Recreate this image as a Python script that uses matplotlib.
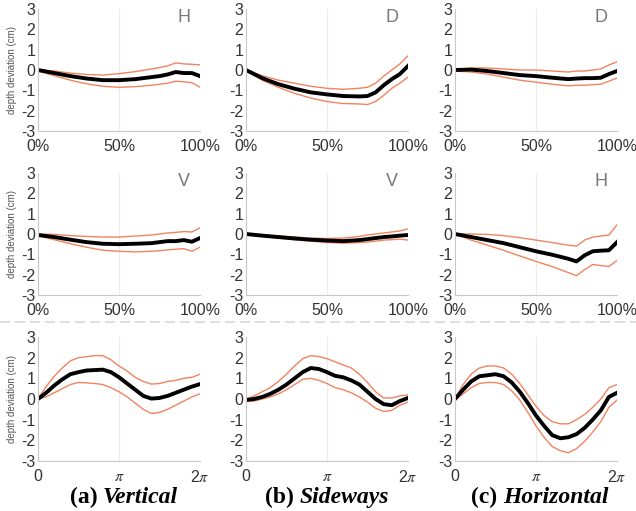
import numpy as np
import matplotlib
matplotlib.use("Agg")
import matplotlib.pyplot as plt

plt.rcParams['font.family'] = ['Liberation Sans', 'DejaVu Sans']
plt.rcParams['mathtext.fontset'] = 'stix'

# x positions (fraction of the movement) for the two top rows
x_pct = [0, 0.1, 0.2, 0.3, 0.4, 0.5, 0.6, 0.7, 0.75, 0.8, 0.85, 0.9, 0.95, 1.0]
# x positions (fraction of 2*pi) for the bottom row
x_rot = [0, 0.05, 0.1, 0.15, 0.2, 0.25, 0.3, 0.35, 0.4, 0.45, 0.5,
         0.55, 0.6, 0.65, 0.7, 0.75, 0.8, 0.85, 0.9, 0.95, 1.0]

# row 1
vert_h_mean = [0, -0.15, -0.3, -0.42, -0.5, -0.5, -0.45, -0.35, -0.3, -0.22, -0.1, -0.15, -0.15, -0.3]
vert_h_up = [0, -0.05, -0.15, -0.22, -0.25, -0.18, -0.08, 0.05, 0.12, 0.2, 0.35, 0.3, 0.28, 0.25]
vert_h_lo = [-0.05, -0.28, -0.5, -0.68, -0.8, -0.85, -0.82, -0.75, -0.7, -0.65, -0.55, -0.58, -0.62, -0.85]

side_d_mean = [0, -0.4, -0.7, -0.92, -1.1, -1.2, -1.28, -1.3, -1.28, -1.1, -0.75, -0.45, -0.2, 0.2]
side_d_up = [0, -0.28, -0.5, -0.65, -0.8, -0.9, -0.95, -0.9, -0.85, -0.65, -0.3, 0.0, 0.3, 0.7]
side_d_lo = [0, -0.5, -0.85, -1.15, -1.38, -1.55, -1.65, -1.67, -1.7, -1.55, -1.25, -0.9, -0.65, -0.35]

hori_d_mean = [0, 0.02, -0.05, -0.15, -0.25, -0.3, -0.38, -0.45, -0.42, -0.4, -0.4, -0.38, -0.2, -0.05]
hori_d_up = [0, 0.1, 0.1, 0.05, 0.0, 0.0, -0.05, -0.1, -0.05, -0.05, 0.0, 0.05, 0.25, 0.4]
hori_d_lo = [-0.05, -0.1, -0.2, -0.35, -0.5, -0.6, -0.7, -0.78, -0.75, -0.75, -0.72, -0.7, -0.55, -0.4]

# row 2
vert_v_mean = [-0.05, -0.15, -0.28, -0.4, -0.48, -0.5, -0.48, -0.45, -0.4, -0.35, -0.35, -0.3, -0.38, -0.2]
vert_v_up = [0, -0.02, -0.08, -0.12, -0.15, -0.15, -0.1, -0.05, 0.0, 0.05, 0.08, 0.12, 0.1, 0.3]
vert_v_lo = [-0.08, -0.28, -0.48, -0.65, -0.8, -0.85, -0.88, -0.85, -0.82, -0.78, -0.75, -0.72, -0.85, -0.65]

side_v_mean = [0, -0.08, -0.15, -0.22, -0.28, -0.32, -0.35, -0.3, -0.25, -0.2, -0.15, -0.12, -0.08, -0.05]
side_v_up = [0, -0.05, -0.1, -0.15, -0.2, -0.22, -0.2, -0.12, -0.05, 0.0, 0.05, 0.1, 0.15, 0.25]
side_v_lo = [0, -0.1, -0.2, -0.28, -0.35, -0.42, -0.45, -0.42, -0.4, -0.35, -0.3, -0.28, -0.25, -0.3]

hori_h_mean = [0, -0.15, -0.3, -0.45, -0.65, -0.85, -1.02, -1.22, -1.35, -1.05, -0.85, -0.82, -0.8, -0.4]
hori_h_up = [0, 0.0, -0.02, -0.08, -0.18, -0.3, -0.42, -0.55, -0.6, -0.3, -0.15, -0.1, -0.05, 0.45]
hori_h_lo = [0, -0.3, -0.55, -0.8, -1.08, -1.35, -1.6, -1.9, -2.05, -1.75, -1.5, -1.55, -1.6, -1.3]

# row 3 (rotation)
vert_r_mean = [0, 0.3, 0.65, 0.95, 1.2, 1.3, 1.38, 1.4, 1.42, 1.3, 1.05, 0.75, 0.45, 0.15, 0.02, 0.05, 0.15, 0.3, 0.45, 0.6, 0.72]
vert_r_up = [0, 0.6, 1.1, 1.5, 1.85, 2.0, 2.05, 2.1, 2.1, 1.9, 1.6, 1.35, 1.05, 0.85, 0.72, 0.75, 0.85, 0.9, 1.0, 1.05, 1.2]
vert_r_lo = [0, 0.1, 0.3, 0.5, 0.7, 0.8, 0.78, 0.75, 0.7, 0.55, 0.35, 0.1, -0.2, -0.5, -0.7, -0.65, -0.5, -0.3, -0.1, 0.1, 0.25]

side_r_mean = [-0.05, 0.0, 0.1, 0.25, 0.45, 0.7, 1.0, 1.3, 1.5, 1.45, 1.3, 1.12, 1.05, 0.9, 0.7, 0.35, 0.0, -0.25, -0.3, -0.1, 0.05]
side_r_up = [0, 0.15, 0.35, 0.55, 0.85, 1.2, 1.6, 1.95, 2.1, 2.05, 1.95, 1.8, 1.65, 1.5, 1.2, 0.8, 0.35, 0.05, 0.05, 0.15, 0.2]
side_r_lo = [-0.1, -0.1, 0.0, 0.1, 0.25, 0.45, 0.7, 0.95, 1.0, 0.9, 0.75, 0.55, 0.45, 0.3, 0.1, -0.15, -0.45, -0.6, -0.55, -0.3, -0.15]

hori_r_mean = [0, 0.45, 0.85, 1.1, 1.15, 1.2, 1.1, 0.8, 0.35, -0.2, -0.8, -1.3, -1.75, -1.9, -1.85, -1.7, -1.4, -1.0, -0.55, 0.1, 0.3]
hori_r_up = [0, 0.7, 1.2, 1.5, 1.6, 1.6, 1.5, 1.2, 0.75, 0.2, -0.35, -0.8, -1.1, -1.2, -1.2, -1.0, -0.75, -0.4, 0.0, 0.55, 0.7]
hori_r_lo = [-0.05, 0.25, 0.55, 0.75, 0.8, 0.8, 0.7, 0.4, -0.05, -0.65, -1.3, -1.85, -2.3, -2.5, -2.6, -2.4, -2.05, -1.6, -1.1, -0.4, -0.05]

panels = [
    [(vert_h_mean, vert_h_up, vert_h_lo, 'H'), (side_d_mean, side_d_up, side_d_lo, 'D'), (hori_d_mean, hori_d_up, hori_d_lo, 'D')],
    [(vert_v_mean, vert_v_up, vert_v_lo, 'V'), (side_v_mean, side_v_up, side_v_lo, 'V'), (hori_h_mean, hori_h_up, hori_h_lo, 'H')],
    [(vert_r_mean, vert_r_up, vert_r_lo, ''), (side_r_mean, side_r_up, side_r_lo, ''), (hori_r_mean, hori_r_up, hori_r_lo, '')],
]
captions = [('(a)', 'Vertical'), ('(b)', 'Sideways'), ('(c)', 'Horizontal')]

W, H = 636, 511
col_left = [38, 246, 455]
col_w = 162
row_top = [9, 173, 337]
row_bot = [131, 295, 461]
caption_split = [103, 300, 503]   # px where "(x) " ends and the italic word starts

band_color = '#f2835f'
spine_color = '#c8c8c8'
text_color = '#333333'

fig = plt.figure(figsize=(W / 100, H / 100), dpi=100)

for r in range(3):
    for c in range(3):
        mean, up, lo, tag = panels[r][c]
        ax = fig.add_axes([col_left[c] / W, 1 - row_bot[r] / H, col_w / W, (row_bot[r] - row_top[r]) / H])
        if r < 2:
            xs = np.array(x_pct)
            xmax = 1.0
            xt = [0, 0.5, 1.0]
            xl = ['0%', '50%', '100%']
        else:
            xs = np.array(x_rot) * 2 * np.pi
            xmax = 2 * np.pi
            xt = [0, np.pi, 2 * np.pi]
            xl = ['0', r'$\pi$', r'2$\pi$']
        ax.axvline(xt[1], color='#ececec', lw=0.8, zorder=0)
        ax.plot(xs, up, color=band_color, lw=1.0)
        ax.plot(xs, lo, color=band_color, lw=1.0)
        ax.plot(xs, mean, color='black', lw=2.8)
        ax.set_xlim(0, xmax)
        ax.set_ylim(-3, 3)
        ax.set_yticks([-3, -2, -1, 0, 1, 2, 3])
        ax.set_yticklabels(['-3', '-2', '-1', '0', '1', '2', '3'])
        ax.set_xticks(xt)
        ax.set_xticklabels(xl)
        ax.tick_params(length=0, labelsize=11.5, colors=text_color)
        ax.tick_params(axis='y', pad=2)
        ax.tick_params(axis='x', pad=6)
        for s in ['top', 'right']:
            ax.spines[s].set_visible(False)
        for s in ['left', 'bottom']:
            ax.spines[s].set_color(spine_color)
            ax.spines[s].set_linewidth(0.8)
        if tag:
            ax.text(0.9, 0.93, tag, transform=ax.transAxes, ha='center', va='center',
                    fontsize=13, color='#777777')
        if c == 0:
            ax.set_ylabel('depth deviation (cm)', fontsize=7, color='#555555', labelpad=3)

# dashed separator between the translation rows and the rotation row
fig.add_artist(plt.Line2D([0, 1], [1 - 322 / H, 1 - 322 / H], transform=fig.transFigure,
                          color='#d8d8d8', lw=1.2, linestyle=(0, (6, 3))))

for c, (lab, name) in enumerate(captions):
    xs_ = caption_split[c] / W
    fig.text(xs_, 1 - 497 / H, lab + ' ', ha='right', va='center', fontsize=17,
             family='Liberation Serif', weight='bold', color='black')
    fig.text(xs_, 1 - 497 / H, name, ha='left', va='center', fontsize=17,
             family='Liberation Serif', weight='bold', style='italic', color='black')

fig.savefig('out.png', dpi=100)
